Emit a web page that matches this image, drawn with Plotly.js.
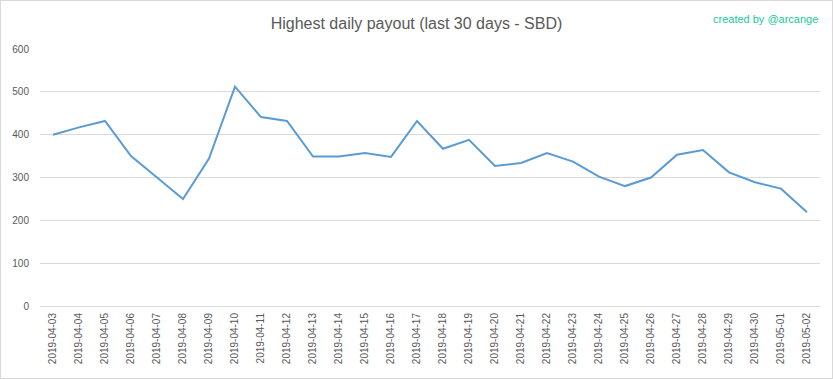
<!DOCTYPE html>
<html>
<head>
<meta charset="utf-8">
<script src="https://cdn.plot.ly/plotly-3.0.1.min.js"></script>
<style>
html,body{margin:0;padding:0;background:#fff;}
#wrap{width:833px;height:379px;box-sizing:border-box;border:1px solid #d9d9d9;}
#chart{width:831px;height:377px;}
</style>
</head>
<body>
<div id="wrap"><div id="chart"></div></div>
<script>
const dates = ["2019-04-03","2019-04-04","2019-04-05","2019-04-06","2019-04-07","2019-04-08","2019-04-09","2019-04-10","2019-04-11","2019-04-12","2019-04-13","2019-04-14","2019-04-15","2019-04-16","2019-04-17","2019-04-18","2019-04-19","2019-04-20","2019-04-21","2019-04-22","2019-04-23","2019-04-24","2019-04-25","2019-04-26","2019-04-27","2019-04-28","2019-04-29","2019-04-30","2019-05-01","2019-05-02"];
const payout = [400,417,432,350,300,250,344,512,441,432,349,349,357,348,432,367,388,327,334,357,337,302,280,300,353,364,312,289,274,219];
const yTicks = [0,100,200,300,400,500,600];

const fontFam = "'Liberation Sans', 'Open Sans', sans-serif";
const trace = {
  x: dates, y: payout, type: 'scatter', mode: 'lines',
  line: {color: '#5b9bd5', width: 2},
  hoverinfo: 'x+y'
};
const layout = {
  width: 831, height: 377,
  margin: {l: 39, r: 12, t: 48, b: 72},
  paper_bgcolor: '#fff', plot_bgcolor: '#fff',
  showlegend: false,
  title: {text: 'Highest daily payout (last 30 days - SBD)', x: 0.5, xanchor: 'center', y: 0.94, yanchor: 'middle',
          font: {family: fontFam, size: 16, color: '#595959'}},
  xaxis: {type: 'category', range: [-0.5, dates.length - 0.5], tickangle: -90, showgrid: false, showline: false, zeroline: false,
          ticks: '', tickfont: {family: fontFam, size: 10, color: '#595959'}, ticklabelstandoff: 4},
  yaxis: {range: [0, 600], tickvals: yTicks, ticktext: yTicks.map(String), showgrid: true, gridcolor: '#d9d9d9',
          zeroline: true, zerolinecolor: '#d9d9d9', zerolinewidth: 1, showline: false, ticks: '',
          tickfont: {family: fontFam, size: 10, color: '#595959'}, ticklabelstandoff: 10},
  annotations: [{text: 'created by @arcange', xref: 'paper', yref: 'paper', x: 1.0, y: 1.0, xanchor: 'right', yanchor: 'bottom',
                 yshift: 22, showarrow: false, font: {family: fontFam, size: 11, color: '#20c997'}}]
};
Plotly.newPlot('chart', [trace], layout, {displayModeBar: false, staticPlot: true});
</script>
</body>
</html>
